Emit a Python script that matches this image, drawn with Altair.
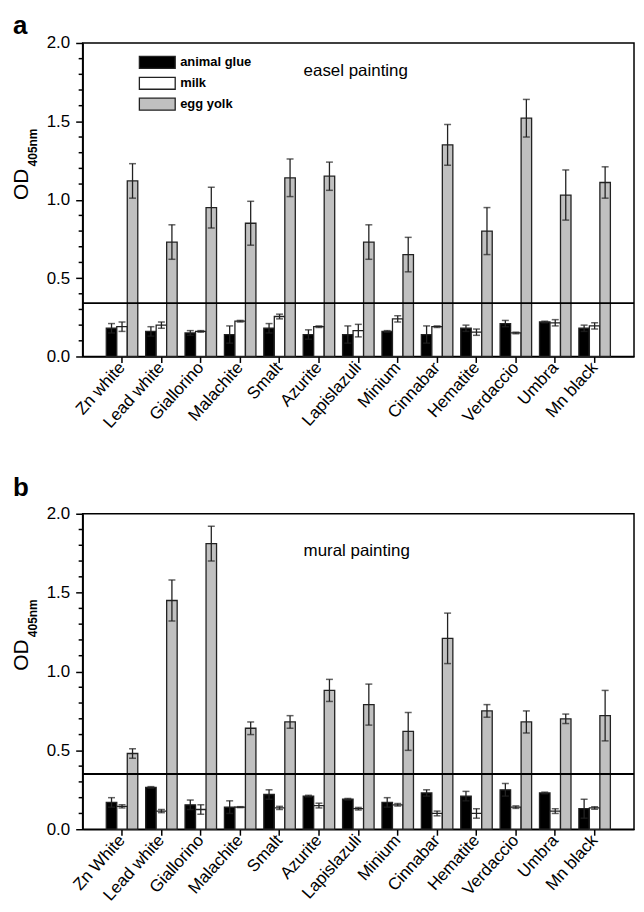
import altair as alt
import pandas as pd

series = ["animal glue", "milk", "egg yolk"]
series_colors = ["#000000", "#ffffff", "#c0c0c0"]

# Panel a: easel painting
cats_a = ["Zn white", "Lead white", "Giallorino", "Malachite", "Smalt", "Azurite",
          "Lapislazuli", "Minium", "Cinnabar", "Hematite", "Verdaccio", "Umbra", "Mn black"]
glue_a = [0.18, 0.16, 0.15, 0.14, 0.18, 0.14, 0.14, 0.16, 0.14, 0.18, 0.21, 0.22, 0.18]
glue_a_err = [0.03, 0.03, 0.015, 0.055, 0.03, 0.03, 0.055, 0.005, 0.055, 0.02, 0.02, 0.005, 0.02]
milk_a = [0.19, 0.20, 0.16, 0.225, 0.255, 0.19, 0.165, 0.24, 0.19, 0.155, 0.15, 0.215, 0.195]
milk_a_err = [0.03, 0.02, 0.005, 0.005, 0.015, 0.005, 0.04, 0.02, 0.005, 0.02, 0.005, 0.02, 0.02]
egg_a = [1.12, 0.73, 0.95, 0.85, 1.14, 1.15, 0.73, 0.65, 1.35, 0.80, 1.52, 1.03, 1.11]
egg_a_err = [0.11, 0.11, 0.13, 0.14, 0.12, 0.09, 0.11, 0.11, 0.13, 0.15, 0.12, 0.16, 0.10]
threshold_a = 0.34

# Panel b: mural painting
cats_b = ["Zn White", "Lead white", "Giallorino", "Malachite", "Smalt", "Azurite",
          "Lapislazuli", "Minium", "Cinnabar", "Hematite", "Verdaccio", "Umbra", "Mn black"]
glue_b = [0.17, 0.265, 0.155, 0.14, 0.22, 0.21, 0.19, 0.17, 0.23, 0.21, 0.25, 0.23, 0.13]
glue_b_err = [0.03, 0.005, 0.03, 0.04, 0.03, 0.005, 0.005, 0.03, 0.02, 0.03, 0.04, 0.005, 0.06]
milk_b = [0.145, 0.115, 0.125, 0.14, 0.135, 0.15, 0.13, 0.155, 0.10, 0.10, 0.14, 0.115, 0.135]
milk_b_err = [0.01, 0.01, 0.03, 0.003, 0.01, 0.015, 0.008, 0.008, 0.015, 0.03, 0.008, 0.015, 0.008]
egg_b = [0.48, 1.45, 1.81, 0.64, 0.68, 0.88, 0.79, 0.62, 1.21, 0.75, 0.68, 0.70, 0.72]
egg_b_err = [0.03, 0.13, 0.11, 0.04, 0.04, 0.07, 0.13, 0.12, 0.16, 0.04, 0.07, 0.03, 0.16]
threshold_b = 0.35

major_ticks = [0.0, 0.5, 1.0, 1.5, 2.0]
minor_ticks = [0.1, 0.2, 0.3, 0.4, 0.6, 0.7, 0.8, 0.9, 1.1, 1.2, 1.3, 1.4, 1.6, 1.7, 1.8, 1.9]

FONT = "Liberation Sans"
INK = "#222222"
W = 554


def make_df(cats, vals, errs):
    rows = []
    for s, vl, el in zip(series, vals, errs):
        for c, v, e in zip(cats, vl, el):
            rows.append({"cat": c, "series": s, "value": v, "lo": v - e, "hi": v + e})
    return pd.DataFrame(rows)


def panel(cats, vals, errs, thr, letter, title, height, letter_y, title_y, show_legend):
    df = make_df(cats, vals, errs)
    x = alt.X("cat:N", sort=cats, title=None,
              scale=alt.Scale(paddingInner=0.2, paddingOuter=0.6),
              axis=alt.Axis(labelAngle=-48, labelFontSize=17, tickSize=6,
                            labelPadding=2, labelFont=FONT, labelOverlap=False))
    xo = alt.XOffset("series:N", sort=series, scale=alt.Scale(paddingInner=0, paddingOuter=0))
    yscale = alt.Scale(domain=[0, 2], nice=False, zero=True)
    y = alt.Y("value:Q", scale=yscale, title=None,
              axis=alt.Axis(values=major_ticks, format=".1f", tickSize=7,
                            labelOverlap=False, labelFlush=False,
                            labelFontSize=17, labelPadding=6, labelFont=FONT))
    fill = alt.Color("series:N", sort=series,
                     scale=alt.Scale(domain=series, range=series_colors), legend=None)

    bars = alt.Chart(df).mark_bar(stroke=INK, strokeWidth=1.3).encode(
        x=x, xOffset=xo, y=y, fill=fill)
    rules = alt.Chart(df).mark_rule(color=INK, strokeWidth=1.3).encode(
        x=x, xOffset=xo, y=alt.Y("lo:Q", scale=yscale), y2="hi:Q")
    cap_hi = alt.Chart(df).mark_tick(color=INK, thickness=1.5, size=7).encode(
        x=x, xOffset=xo, y=alt.Y("hi:Q", scale=yscale))
    cap_lo = alt.Chart(df).mark_tick(color=INK, thickness=1.5, size=7).encode(
        x=x, xOffset=xo, y=alt.Y("lo:Q", scale=yscale))
    thr_rule = alt.Chart(pd.DataFrame({"t": [thr]})).mark_rule(color="black", strokeWidth=1.8).encode(
        y=alt.Y("t:Q", scale=yscale))
    minor = alt.Chart(pd.DataFrame({"m": minor_ticks})).mark_rule(color="black", strokeWidth=1.5).encode(
        y=alt.Y("m:Q", scale=yscale), x=alt.value(-4), x2=alt.value(0))

    letter_t = alt.Chart(pd.DataFrame({"t": [letter]})).mark_text(
        align="left", baseline="alphabetic", fontSize=26, fontWeight="bold", font=FONT, color="black"
    ).encode(text="t:N", x=alt.value(-70), y=alt.value(letter_y))
    title_t = alt.Chart(pd.DataFrame({"t": [title]})).mark_text(
        align="left", baseline="middle", fontSize=17, font=FONT, color="black"
    ).encode(text="t:N", x=alt.value(222), y=alt.value(title_y))
    od_t = alt.Chart(pd.DataFrame({"t": ["OD"]})).mark_text(
        angle=270, align="center", baseline="middle", fontSize=21, font=FONT, color="black"
    ).encode(text="t:N", x=alt.value(-61), y=alt.value(142))
    sub_t = alt.Chart(pd.DataFrame({"t": ["405nm"]})).mark_text(
        angle=270, align="center", baseline="middle", fontSize=12, fontWeight="bold", font=FONT, color="black"
    ).encode(text="t:N", x=alt.value(-50), y=alt.value(105))

    main = alt.layer(bars, rules, cap_hi, cap_lo, thr_rule, minor, letter_t, title_t, od_t, sub_t)

    if show_legend:
        ldf = pd.DataFrame({"series": series})
        ly = alt.Y("series:N", sort=series, axis=None, title=None,
                   scale=alt.Scale(type="band", domain=series, range=[13.5, 67.5],
                                   paddingInner=0.4286, paddingOuter=0))
        swatch = alt.Chart(ldf).mark_rect(stroke=INK, strokeWidth=1.3).encode(
            x=alt.value(57), x2=alt.value(93), y=ly, fill=fill)
        lab = alt.Chart(ldf).mark_text(
            align="left", baseline="middle", fontSize=13, fontWeight="bold", font=FONT, color="black"
        ).encode(x=alt.value(98), y=ly, text="series:N")
        leg = alt.layer(swatch, lab)
        return alt.layer(main, leg).resolve_scale(y="independent").properties(width=W, height=height)
    return main.properties(width=W, height=height)


top = panel(cats_a, [glue_a, milk_a, egg_a], [glue_a_err, milk_a_err, egg_a_err],
            threshold_a, "a", "easel painting", 315, -9, 28, True)
bottom = panel(cats_b, [glue_b, milk_b, egg_b], [glue_b_err, milk_b_err, egg_b_err],
               threshold_b, "b", "mural painting", 317, -18, 37, False)

chart = alt.vconcat(top, bottom, spacing=42).resolve_scale(
    x="independent", y="independent", fill="shared"
).properties(
    padding={"left": 2, "top": 2, "right": 0, "bottom": 0}
).configure_view(
    stroke="black", strokeWidth=1.5
).configure_axis(
    domainColor="black", domainWidth=1.5, tickColor="black", tickWidth=1.5,
    labelColor="black", grid=False
)

chart.save("out.html", embed_options={"renderer": "svg", "actions": False})
